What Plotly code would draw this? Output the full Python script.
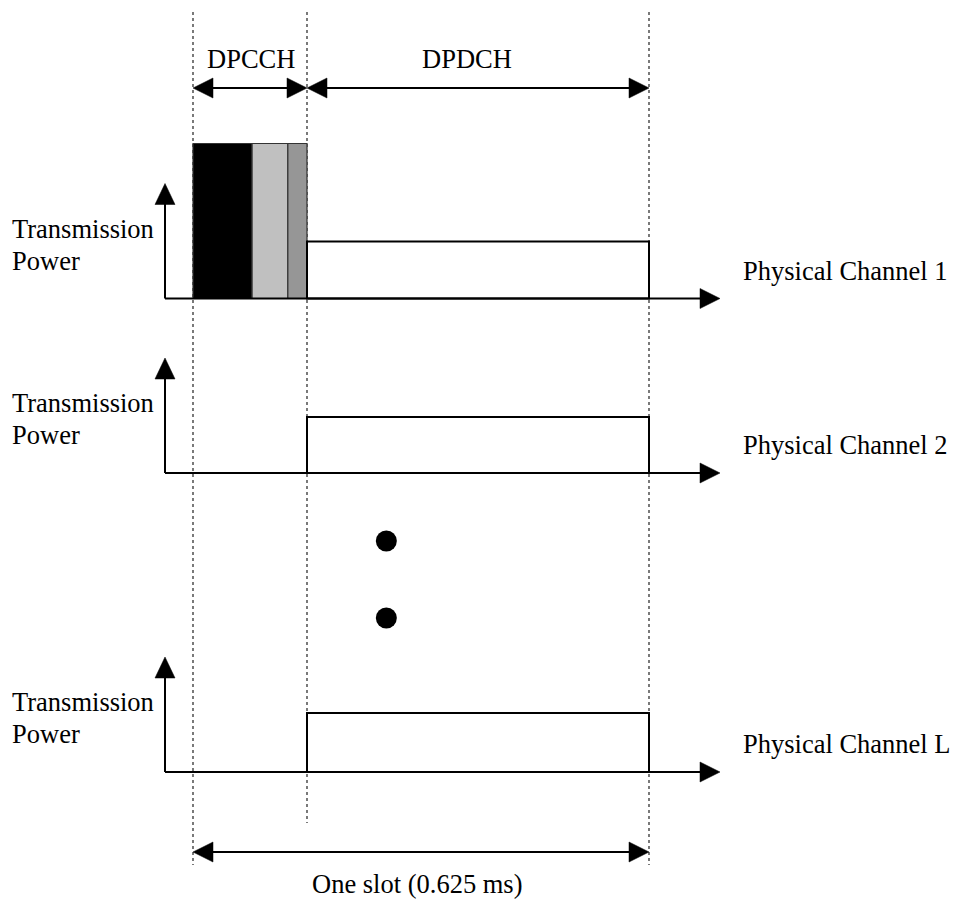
import plotly.graph_objects as go

# ---------------- data ----------------
slot_ms = 0.625                      # one slot
dpcch_end_ms = 0.15625               # DPCCH / DPDCH boundary
dpcch_fields = ["Pilot", "TFCI", "TPC"]
dpcch_field_end_ms = [0.081, 0.130, 0.15625]
dpcch_field_colors = ["#000000", "#c0c0c0", "#969696"]
dpcch_power = 155                    # relative power (vertical units)
channel_names = ["Physical Channel 1", "Physical Channel 2", "Physical Channel L"]
dpdch_power = [57, 56, 59]           # relative power of DPDCH per channel
has_dpcch = [True, False, False]
ellipsis_t = [0.265, 0.265]
span_labels = ["DPCCH", "DPDCH"]
slot_label = "One slot (0.625 ms)"
axis_label = ["Transmission", "Power"]

# ---------------- layout helpers ----------------
W, H = 954, 902
X0_PX = 193.0
PX_PER_MS = 729.6
def dx(px):
    return px / PX_PER_MS
def tx(px):
    return (px - X0_PX) / PX_PER_MS

baselines = [298.5, 473, 772]
FONT = dict(family="Liberation Serif, Times New Roman, serif", size=26.5, color="black")
LW = 2

shapes = []
annotations = []

def line(x0, y0, x1, y1, width=LW, dash=None, color="black"):
    d = dict(type="line", xref="x", yref="y", x0=x0, y0=y0, x1=x1, y1=y1,
             line=dict(color=color, width=width))
    if dash:
        d["line"]["dash"] = dash
    shapes.append(d)

def head(xt, yt, direction, length=20, half=10):
    # direction: 'r', 'l', 'u'
    if direction == "r":
        p = f"M {xt},{yt} L {xt-dx(length)},{yt-half} L {xt-dx(length)},{yt+half} Z"
    elif direction == "l":
        p = f"M {xt},{yt} L {xt+dx(length)},{yt-half} L {xt+dx(length)},{yt+half} Z"
    else:
        p = f"M {xt},{yt} L {xt-dx(half)},{yt+length} L {xt+dx(half)},{yt+length} Z"
    shapes.append(dict(type="path", xref="x", yref="y", path=p,
                       fillcolor="black", line=dict(color="black", width=0.5)))

def double_arrow(xa, xb, y):
    line(xa + dx(10), y, xb - dx(10), y)
    head(xa, y, "l")
    head(xb, y, "r")

def text(x_px, y, s, anchor="left"):
    annotations.append(dict(x=x_px / W, xref="paper", y=y, yref="y", text=s,
                            showarrow=False, xanchor=anchor, yanchor="middle",
                            font=FONT))

# dotted guide lines
line(0, 12, 0, 865, width=1.2, dash="dot", color="#222222")
line(dpcch_end_ms, 12, dpcch_end_ms, 823, width=1.2, dash="dot", color="#222222")
line(slot_ms, 12, slot_ms, 865, width=1.2, dash="dot", color="#222222")

# top spans
double_arrow(0, dpcch_end_ms, 88)
double_arrow(dpcch_end_ms, slot_ms, 88)
text(251, 59, span_labels[0], "center")
text(467, 59, span_labels[1], "center")

# channels
ax_x = tx(165)
ax_end = tx(720)
for i, name in enumerate(channel_names):
    b = baselines[i]
    # DPCCH fields
    if has_dpcch[i]:
        start = 0.0
        for end, col in zip(dpcch_field_end_ms, dpcch_field_colors):
            shapes.append(dict(type="rect", xref="x", yref="y", x0=start, x1=end,
                               y0=b, y1=b - dpcch_power, fillcolor=col,
                               line=dict(color="#333333", width=1.2)))
            start = end
    # DPDCH
    shapes.append(dict(type="rect", xref="x", yref="y", x0=dpcch_end_ms, x1=slot_ms,
                       y0=b, y1=b - dpdch_power[i], fillcolor="rgba(0,0,0,0)",
                       line=dict(color="black", width=LW)))
    # power axis
    line(ax_x, b, ax_x, b - 115 + 20)
    head(ax_x, b - 115, "u", length=21, half=10)
    # time axis
    line(ax_x, b, ax_end - dx(18), b)
    head(ax_end, b, "r", length=20, half=10)
    # labels
    text(10, b - 70, axis_label[0])
    text(10, b - 38, axis_label[1])
    text(741, b - 28, name)

# bottom slot arrow
double_arrow(0, slot_ms, 852)
text(417, 884, slot_label, "center")

fig = go.Figure()
fig.add_trace(go.Scatter(x=ellipsis_t, y=[541, 618], mode="markers",
                         marker=dict(color="black", size=21), hoverinfo="skip"))

fig.update_layout(
    width=W, height=H, margin=dict(l=0, r=0, t=0, b=0),
    paper_bgcolor="white", plot_bgcolor="white", showlegend=False,
    shapes=shapes, annotations=annotations,
    xaxis=dict(range=[tx(0), tx(W)], visible=False, fixedrange=True),
    yaxis=dict(range=[H, 0], visible=False, fixedrange=True),
)
fig.write_html("out.html", config={"displayModeBar": False},
               post_script="document.body.style.margin='0px';document.body.style.overflow='hidden';")
